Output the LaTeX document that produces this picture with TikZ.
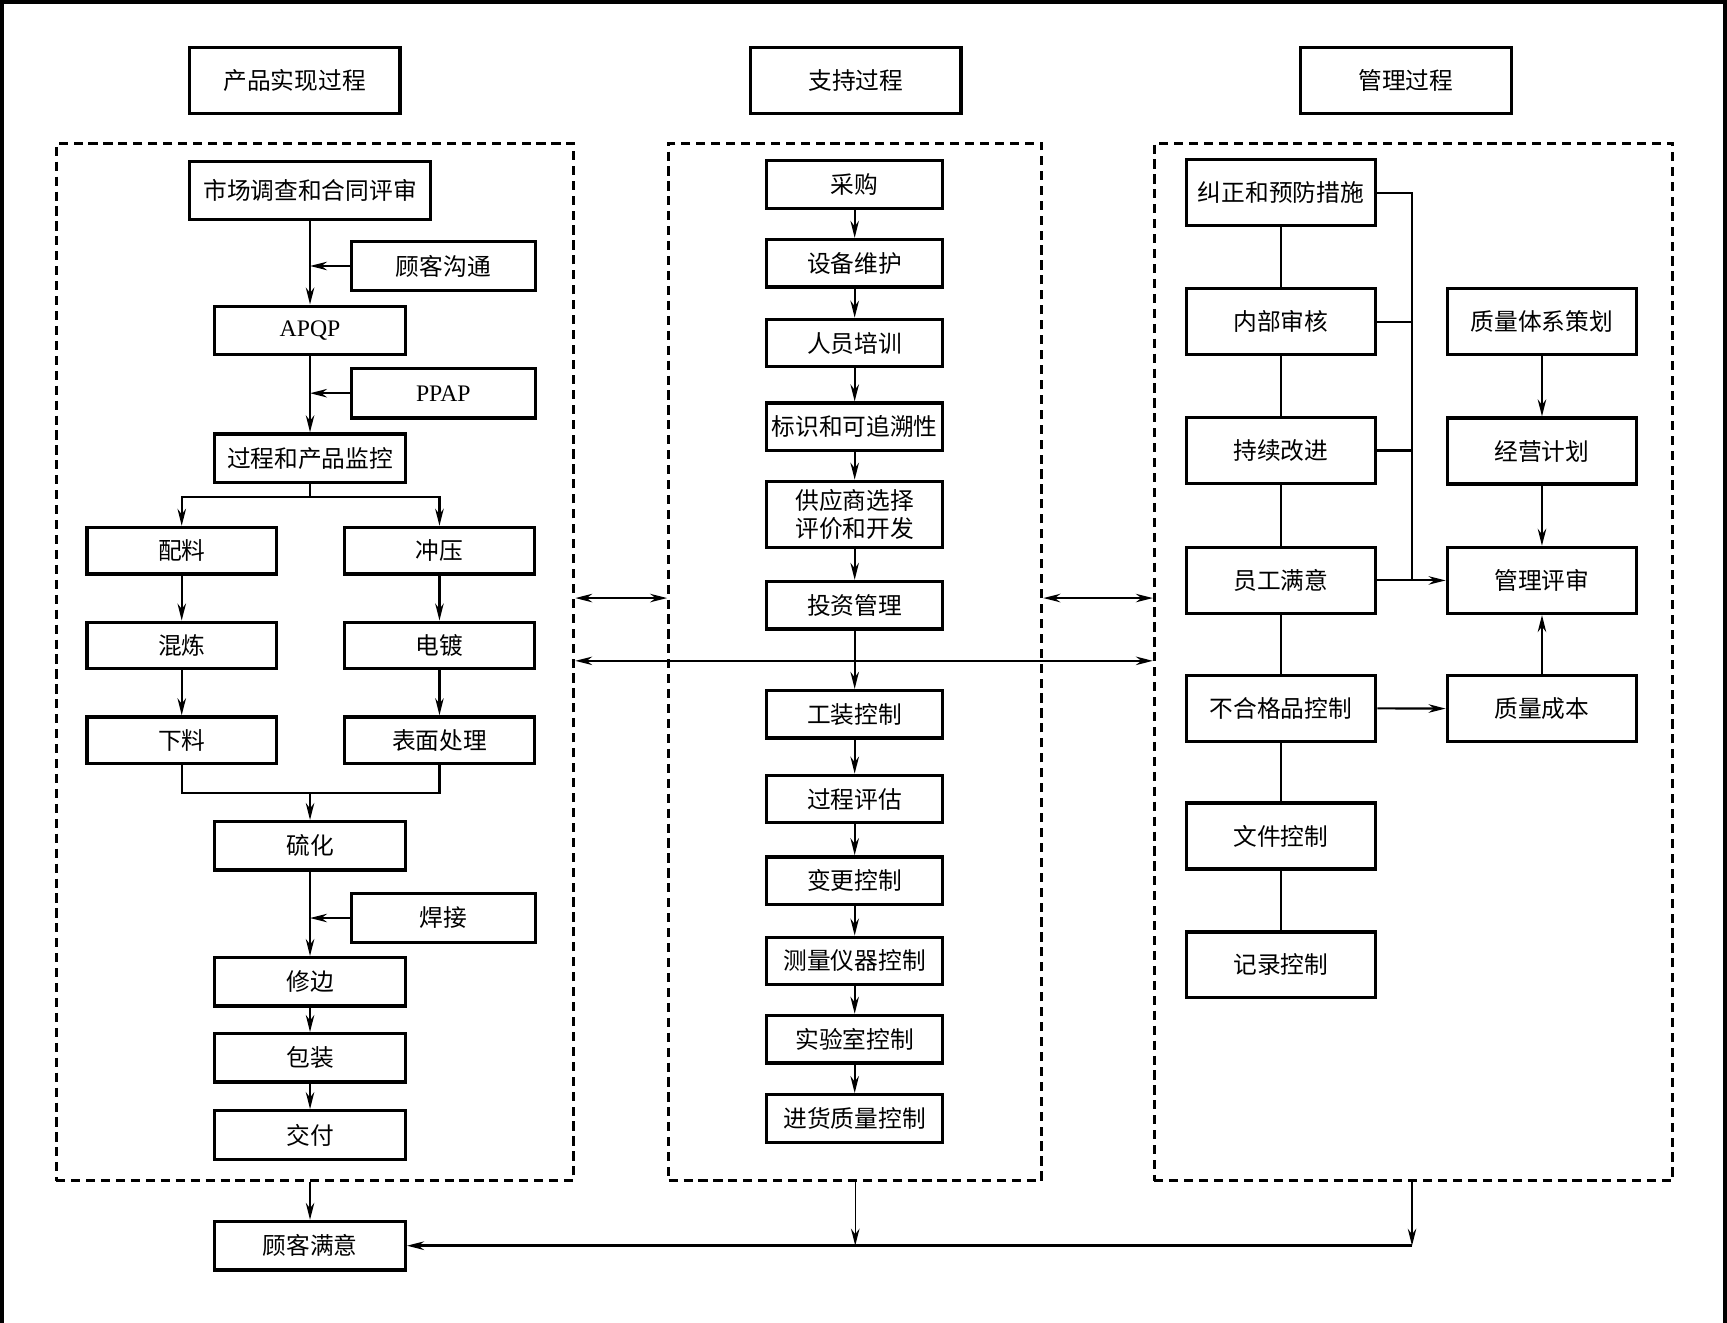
\documentclass[tikz,border=0pt]{standalone}
\usepackage{fontspec}
\setmainfont{Liberation Serif}
\newfontfamily\cjk{Noto Sans CJK SC}
\usetikzlibrary{arrows.meta, positioning}

\begin{document}
\begin{tikzpicture}[
  x=0.022028cm, y=-0.022028cm,
  font=\cjk\fontsize{13.5}{16}\selectfont,
  box/.style={draw, line width=1.9pt, minimum width=3.81cm, minimum height=0.97cm, align=center, inner sep=1pt},
  side/.style={box, minimum width=3.68cm, minimum height=0.99cm},
  sub/.style={box, minimum width=3.79cm, minimum height=0.93cm},
  mid/.style={box, minimum width=3.52cm, minimum height=0.95cm},
  mgt/.style={box, minimum width=3.79cm, minimum height=1.32cm},
  head/.style={box, minimum width=4.21cm, minimum height=1.32cm},
  area/.style={draw, line width=1.7pt, dash pattern=on 5.2pt off 3.3pt, inner sep=0pt},
  arr/.style={line width=1.2pt, -{Stealth[length=3.4mm, width=1.7mm]}},
  darr/.style={line width=1.2pt, {Stealth[length=3.4mm, width=1.7mm]}-{Stealth[length=3.4mm, width=1.7mm]}},
  link/.style={line width=1.2pt}
]
  \useasboundingbox (0,0) rectangle (1568,1201);
  \draw[line width=2pt] (2,1201) -- (2,2) -- (1566,2) -- (1566,1201);

  % Headers
  \node[head] (h1) at (267.5,73) {产品实现过程};
  \node[head] (h2) at (777,73) {支持过程};
  \node[head] (h3) at (1276.5,73) {管理过程};

  % Dashed areas
  \node[area, minimum width=10.353cm, minimum height=20.75cm] (fL) at (286,601) {};
  \node[area, minimum width=7.467cm, minimum height=20.75cm] (fM) at (776.5,601) {};
  \node[area, minimum width=10.375cm, minimum height=20.75cm] (fR) at (1283.5,601) {};

  % Product realisation
  \node[box, minimum width=4.82cm, minimum height=1.15cm] (mkt) at (281.5,173) {市场调查和合同评审};
  \node[side] (gk) at (402.5,241.5) {顾客沟通};
  \node[box] (apqp) at (281.5,300) {\rmfamily APQP};
  \node[side] (ppap) at (402.5,357) {\rmfamily PPAP};
  \node[box] (jc) at (281.5,416) {过程和产品监控};
  \node[sub] (pl) at (165,500) {配料};
  \node[sub] (cy) at (399,500) {冲压};
  \node[sub] (hl) at (165,586) {混炼};
  \node[sub] (dd) at (399,586) {电镀};
  \node[sub] (xl) at (165,672) {下料};
  \node[sub] (bm) at (399,672) {表面处理};
  \node[box] (lh) at (281.5,768) {硫化};
  \node[side] (hj) at (402.5,833.5) {焊接};
  \node[box] (xb) at (281.5,891.5) {修边};
  \node[box] (bz) at (281.5,960.5) {包装};
  \node[box] (jf) at (281.5,1030.5) {交付};
  \node[box] (myd) at (281.5,1131) {顾客满意};

  \coordinate (br) at (281.5,451);
  \coordinate (mg) at (281.5,720);
  \draw[arr] (mkt.south -| apqp.north) -- (apqp.north);
  \draw[arr] (gk.west) -- (gk.west -| apqp.north);
  \draw[arr] (apqp.south) -- (jc.north);
  \draw[arr] (ppap.west) -- (ppap.west -| jc.north);
  \draw[link] (jc.south) -- (br);
  \draw[arr] (br) -| (pl.north);
  \draw[arr] (br) -| (cy.north);
  \draw[arr] (pl) -- (hl);
  \draw[arr] (hl) -- (xl);
  \draw[arr] (cy) -- (dd);
  \draw[arr] (dd) -- (bm);
  \draw[link] (xl.south) |- (mg);
  \draw[link] (bm.south) |- (mg);
  \draw[arr] (mg) -- (lh.north);
  \draw[arr] (lh) -- (xb);
  \draw[arr] (hj.west) -- (hj.west -| xb.north);
  \draw[arr] (xb) -- (bz);
  \draw[arr] (bz) -- (jf);

  % Support
  \node[mid] (cg) at (776,167.5) {采购};
  \node[mid] (sb) at (776,239) {设备维护};
  \node[mid] (px) at (776,311.5) {人员培训};
  \node[mid] (bs) at (776,387.5) {标识和可追溯性};
  \node[mid, minimum height=1.32cm] (gys) at (776,467) {供应商选择\\评价和开发};
  \node[mid] (tz) at (776,549.5) {投资管理};
  \node[mid] (gz) at (776,648.5) {工装控制};
  \node[mid] (pg) at (776,725.5) {过程评估};
  \node[mid] (bg) at (776,799.5) {变更控制};
  \node[mid] (cl) at (776,872.5) {测量仪器控制};
  \node[mid] (sy) at (776,943.5) {实验室控制};
  \node[mid] (jh) at (776,1015.5) {进货质量控制};
  \foreach \a/\b in {cg/sb, sb/px, px/bs, bs/gys, gys/tz, tz/gz, gz/pg, pg/bg, bg/cl, cl/sy, sy/jh}
    \draw[arr] (\a) -- (\b);

  % Management
  \node[mgt] (jz) at (1163,175) {纠正和预防措施};
  \node[mgt] (nb) at (1163,292) {内部审核};
  \node[mgt] (cx) at (1163,409) {持续改进};
  \node[mgt] (yg) at (1163,527) {员工满意};
  \node[mgt] (bhg) at (1163,643) {不合格品控制};
  \node[mgt] (wj) at (1163,759) {文件控制};
  \node[mgt] (jl) at (1163,876) {记录控制};
  \node[mgt] (zl) at (1400,292) {质量体系策划};
  \node[mgt] (jy) at (1400,409.5) {经营计划};
  \node[mgt] (gl) at (1400,527) {管理评审};
  \node[mgt] (cb) at (1400,643.5) {质量成本};
  \foreach \a/\b in {jz/nb, nb/cx, cx/yg, yg/bhg, bhg/wj, wj/jl}
    \draw[link] (\a) -- (\b);
  \coordinate (bus) at (1282,175);
  \draw[link] (jz.east) -- (bus) -- (bus |- yg.east);
  \draw[link] (nb.east) -- (nb.east -| bus);
  \draw[link] (cx.east) -- (cx.east -| bus);
  \draw[arr] (yg) -- (gl);
  \draw[arr] (zl) -- (jy);
  \draw[arr] (jy) -- (gl);
  \draw[arr] (cb) -- (gl);
  \draw[arr] (bhg) -- (cb);

  % Between areas
  \coordinate (a1) at (0,543);
  \coordinate (a2) at (0,600);
  \draw[darr] (fL.east |- a1) -- (fM.west |- a1);
  \draw[darr] (fM.east |- a1) -- (fR.west |- a1);
  \draw[darr] (fL.east |- a2) -- (fR.west |- a2);

  % Customer satisfaction
  \coordinate (bot) at (0,1131);
  \draw[arr, line width=0.8pt] (fL.south -| myd.north) -- (myd.north);
  \draw[arr, line width=0.8pt] (fM.south) -- (fM.south |- bot);
  \draw[arr, line width=0.8pt] (fR.south -| bus) -- (bus |- bot);
  \draw[arr, line width=1.5pt] (bus |- bot) -- (myd.east);
\end{tikzpicture}
\end{document}
